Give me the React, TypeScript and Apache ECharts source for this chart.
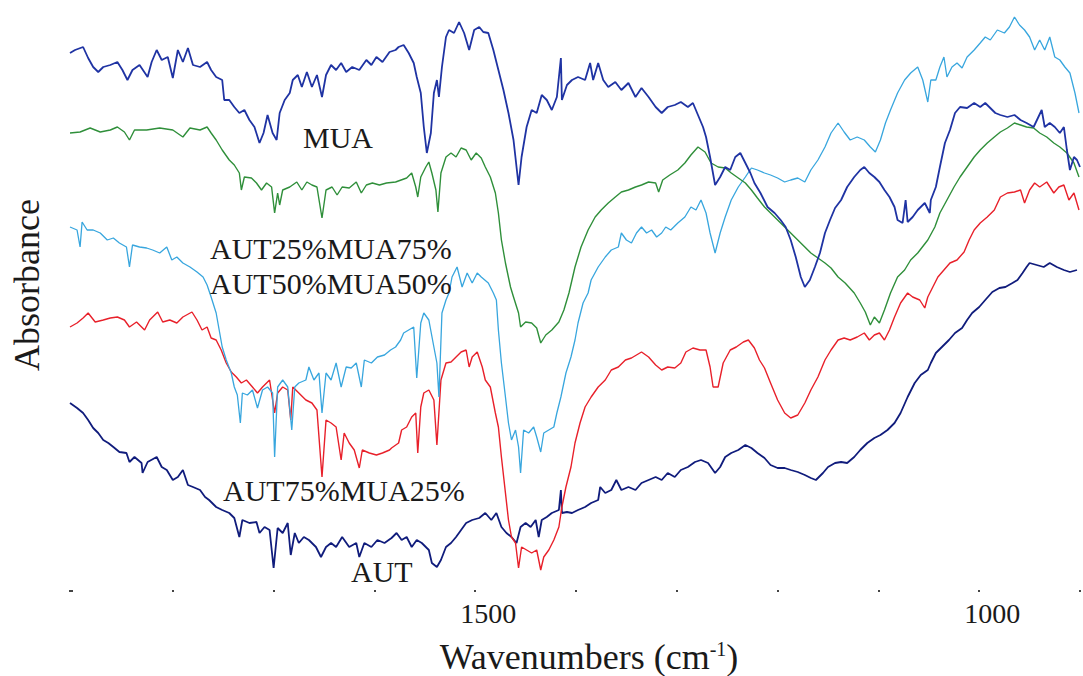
import React, { useEffect, useRef } from "react";
import * as echarts from "echarts";

// FTIR absorbance spectra (offset vertically), wavenumber in cm-1 vs stacked absorbance.
const mua: [number, number][] = [
  [1902, 5.47], [1897, 5.5], [1889, 5.53], [1884, 5.42], [1879, 5.33], [1874, 5.28], [1869, 5.33], [1862, 5.35],
  [1855, 5.38], [1850, 5.3], [1845, 5.2], [1840, 5.3], [1833, 5.35], [1825, 5.23], [1821, 5.38], [1816, 5.5],
  [1811, 5.4], [1805, 5.43], [1800, 5.22], [1795, 5.5], [1790, 5.38], [1785, 5.52], [1780, 5.35], [1773, 5.33],
  [1766, 5.38], [1762, 5.3], [1757, 5.23], [1751, 5.2], [1749, 5.0], [1744, 5.0], [1739, 4.93], [1734, 4.87],
  [1729, 4.9], [1724, 4.8], [1719, 4.73], [1714, 4.57], [1710, 4.67], [1706, 4.85], [1701, 4.67], [1697, 4.6],
  [1694, 4.87], [1689, 5.0], [1684, 5.07], [1681, 5.2], [1676, 5.25], [1672, 5.13], [1667, 5.28], [1662, 5.13],
  [1657, 5.25], [1652, 5.03], [1648, 5.25], [1643, 5.35], [1638, 5.3], [1633, 5.37], [1628, 5.28], [1622, 5.33],
  [1615, 5.3], [1608, 5.4], [1603, 5.35], [1598, 5.43], [1592, 5.38], [1585, 5.48], [1579, 5.5], [1576, 5.53],
  [1571, 5.55], [1566, 5.47], [1561, 5.37], [1558, 5.23], [1554, 5.07], [1551, 4.73], [1548, 4.47], [1544, 4.67],
  [1541, 5.07], [1538, 5.2], [1536, 5.03], [1533, 5.33], [1529, 5.63], [1526, 5.7], [1521, 5.67], [1516, 5.78],
  [1511, 5.67], [1506, 5.5], [1501, 5.7], [1496, 5.73], [1492, 5.68], [1487, 5.67], [1482, 5.5], [1477, 5.3],
  [1472, 5.1], [1467, 4.87], [1462, 4.6], [1457, 4.15], [1454, 4.43], [1449, 4.73], [1444, 4.9], [1439, 4.87],
  [1434, 5.05], [1429, 5.0], [1424, 4.9], [1419, 5.03], [1415, 5.42], [1414, 5.0], [1409, 5.15], [1404, 5.2],
  [1398, 5.23], [1391, 5.2], [1386, 5.37], [1383, 5.2], [1378, 5.37], [1373, 5.2], [1368, 5.13], [1361, 5.18],
  [1355, 5.1], [1348, 5.17], [1341, 5.03], [1335, 5.12], [1328, 5.03], [1321, 4.93], [1315, 4.87], [1309, 4.93],
  [1302, 4.95], [1296, 4.98], [1289, 4.93], [1284, 4.97], [1279, 4.85], [1274, 4.73], [1271, 4.63], [1267, 4.43],
  [1262, 4.15], [1257, 4.23], [1252, 4.33], [1247, 4.3], [1242, 4.43], [1237, 4.47], [1232, 4.37], [1227, 4.27],
  [1223, 4.17], [1217, 4.07], [1210, 3.93], [1203, 3.87], [1197, 3.8], [1192, 3.73], [1187, 3.6], [1182, 3.43],
  [1177, 3.23], [1173, 3.13], [1168, 3.2], [1163, 3.33], [1158, 3.47], [1153, 3.67], [1148, 3.8], [1143, 3.92],
  [1137, 4.0], [1131, 4.13], [1124, 4.23], [1118, 4.3], [1114, 4.33], [1109, 4.27], [1104, 4.23], [1099, 4.18],
  [1094, 4.1], [1089, 4.03], [1084, 3.93], [1081, 3.8], [1076, 3.77], [1073, 4.0], [1071, 3.78], [1066, 3.83],
  [1061, 3.9], [1054, 3.97], [1049, 3.87], [1048, 4.0], [1043, 4.13], [1039, 4.33], [1034, 4.57], [1029, 4.7],
  [1024, 4.87], [1019, 4.93], [1012, 4.92], [1005, 4.97], [999, 4.93], [994, 4.97], [989, 4.92], [984, 4.87],
  [979, 4.85], [972, 4.83], [965, 4.85], [959, 4.8], [953, 4.77], [946, 4.73], [938, 4.9], [935, 4.73],
  [930, 4.77], [925, 4.73], [920, 4.67], [916, 4.73], [913, 4.5], [910, 4.3], [906, 4.43], [903, 4.4], [900, 4.33],
];

const aut25mua75: [number, number][] = [
  [1902, 4.67], [1892, 4.68], [1882, 4.72], [1872, 4.68], [1862, 4.7], [1855, 4.73], [1848, 4.68], [1843, 4.6],
  [1838, 4.7], [1826, 4.7], [1813, 4.72], [1800, 4.7], [1790, 4.63], [1783, 4.72], [1773, 4.7], [1766, 4.73],
  [1762, 4.67], [1757, 4.6], [1751, 4.5], [1744, 4.4], [1739, 4.35], [1734, 4.27], [1732, 4.1], [1729, 4.23],
  [1722, 4.22], [1717, 4.17], [1712, 4.1], [1707, 4.17], [1702, 4.13], [1699, 3.87], [1696, 4.07], [1694, 3.95],
  [1691, 4.1], [1684, 4.13], [1677, 4.18], [1672, 4.1], [1667, 4.18], [1662, 4.15], [1657, 4.13], [1652, 3.82],
  [1648, 4.1], [1642, 4.13], [1637, 4.05], [1632, 4.13], [1625, 4.12], [1618, 4.18], [1613, 4.07], [1608, 4.15],
  [1602, 4.17], [1595, 4.15], [1588, 4.17], [1579, 4.18], [1568, 4.22], [1563, 4.27], [1559, 4.13], [1557, 4.03],
  [1554, 4.23], [1549, 4.33], [1546, 4.38], [1543, 4.27], [1539, 4.1], [1537, 3.88], [1534, 4.27], [1529, 4.43],
  [1524, 4.47], [1519, 4.43], [1514, 4.52], [1509, 4.5], [1504, 4.4], [1499, 4.47], [1494, 4.42], [1490, 4.33],
  [1485, 4.23], [1480, 4.07], [1477, 3.87], [1474, 3.6], [1470, 3.37], [1465, 3.13], [1462, 3.03], [1457, 2.87],
  [1455, 2.73], [1450, 2.78], [1444, 2.77], [1439, 2.72], [1435, 2.57], [1430, 2.65], [1424, 2.7], [1417, 2.78],
  [1412, 2.9], [1407, 3.07], [1401, 3.33], [1395, 3.53], [1388, 3.7], [1381, 3.83], [1375, 3.9], [1368, 3.97],
  [1361, 4.03], [1355, 4.08], [1348, 4.1], [1341, 4.13], [1335, 4.15], [1328, 4.18], [1321, 4.17], [1318, 4.08],
  [1314, 4.2], [1307, 4.25], [1299, 4.3], [1292, 4.37], [1286, 4.45], [1279, 4.53], [1272, 4.48], [1266, 4.37],
  [1259, 4.33], [1252, 4.32], [1246, 4.27], [1239, 4.22], [1232, 4.17], [1226, 4.1], [1220, 4.02], [1213, 3.93],
  [1207, 3.87], [1200, 3.8], [1193, 3.73], [1187, 3.67], [1180, 3.6], [1173, 3.53], [1167, 3.47], [1160, 3.42],
  [1153, 3.37], [1147, 3.32], [1140, 3.23], [1133, 3.17], [1124, 3.07], [1118, 2.97], [1113, 2.88], [1108, 2.75],
  [1104, 2.83], [1099, 2.77], [1094, 2.9], [1088, 3.07], [1081, 3.23], [1074, 3.3], [1068, 3.4], [1061, 3.47],
  [1051, 3.6], [1044, 3.73], [1039, 3.87], [1032, 4.0], [1025, 4.13], [1019, 4.23], [1012, 4.33], [1005, 4.43],
  [999, 4.5], [992, 4.57], [985, 4.63], [979, 4.68], [972, 4.72], [965, 4.77], [959, 4.75], [953, 4.73],
  [946, 4.72], [940, 4.67], [933, 4.63], [926, 4.57], [920, 4.53], [913, 4.47], [906, 4.37], [901, 4.23],
];

const aut50mua50: [number, number][] = [
  [1902, 3.73], [1895, 3.7], [1892, 3.53], [1890, 3.78], [1885, 3.7], [1879, 3.7], [1872, 3.67], [1865, 3.6],
  [1859, 3.62], [1853, 3.57], [1846, 3.53], [1843, 3.33], [1840, 3.55], [1833, 3.53], [1826, 3.52], [1820, 3.5],
  [1813, 3.47], [1806, 3.53], [1801, 3.4], [1796, 3.43], [1790, 3.37], [1783, 3.33], [1776, 3.28], [1770, 3.23],
  [1766, 3.15], [1762, 3.03], [1757, 2.87], [1754, 2.7], [1751, 2.53], [1747, 2.4], [1742, 2.27], [1739, 2.13],
  [1736, 2.05], [1733, 1.77], [1731, 2.07], [1726, 2.05], [1721, 2.1], [1716, 1.92], [1711, 2.1], [1706, 2.13],
  [1701, 2.07], [1699, 1.43], [1696, 2.13], [1691, 2.2], [1686, 2.13], [1682, 1.7], [1679, 2.13], [1675, 2.17],
  [1668, 2.2], [1665, 2.33], [1660, 2.2], [1655, 2.27], [1652, 1.87], [1648, 2.27], [1643, 2.2], [1638, 2.37],
  [1633, 2.13], [1628, 2.33], [1623, 2.32], [1618, 2.37], [1613, 2.13], [1610, 2.4], [1603, 2.37], [1597, 2.43],
  [1590, 2.45], [1584, 2.5], [1579, 2.53], [1574, 2.6], [1571, 2.67], [1566, 2.7], [1561, 2.73], [1558, 2.22],
  [1554, 2.77], [1551, 2.87], [1546, 2.8], [1541, 2.53], [1538, 2.37], [1536, 2.03], [1533, 2.87], [1529, 3.0],
  [1526, 3.07], [1523, 3.23], [1518, 3.33], [1513, 3.13], [1508, 3.27], [1503, 3.17], [1498, 3.27], [1494, 3.23],
  [1487, 3.17], [1482, 3.07], [1479, 3.0], [1477, 2.7], [1474, 2.37], [1470, 2.03], [1467, 1.77], [1464, 1.6],
  [1460, 1.7], [1457, 1.53], [1455, 1.27], [1452, 1.7], [1447, 1.67], [1442, 1.73], [1439, 1.63], [1435, 1.48],
  [1432, 1.67], [1427, 1.7], [1422, 1.73], [1419, 1.87], [1415, 2.03], [1410, 2.27], [1405, 2.43], [1401, 2.6],
  [1398, 2.77], [1393, 2.97], [1388, 3.07], [1385, 3.2], [1378, 3.33], [1371, 3.43], [1365, 3.5], [1358, 3.53],
  [1355, 3.67], [1350, 3.6], [1345, 3.57], [1340, 3.67], [1335, 3.73], [1330, 3.67], [1325, 3.7], [1320, 3.63],
  [1315, 3.67], [1311, 3.73], [1306, 3.7], [1299, 3.77], [1292, 3.83], [1286, 3.93], [1281, 3.9], [1276, 4.0],
  [1271, 3.87], [1267, 3.67], [1262, 3.47], [1257, 3.67], [1252, 3.83], [1246, 4.0], [1239, 4.13], [1232, 4.23],
  [1226, 4.32], [1220, 4.3], [1213, 4.27], [1207, 4.25], [1200, 4.22], [1193, 4.18], [1187, 4.2], [1180, 4.22],
  [1173, 4.18], [1167, 4.3], [1160, 4.4], [1153, 4.53], [1147, 4.67], [1140, 4.77], [1134, 4.68], [1128, 4.6],
  [1121, 4.63], [1114, 4.6], [1108, 4.53], [1103, 4.48], [1098, 4.6], [1093, 4.77], [1088, 4.9], [1081, 5.07],
  [1074, 5.2], [1068, 5.27], [1061, 5.33], [1056, 5.2], [1051, 4.98], [1048, 5.2], [1043, 5.2], [1039, 5.33],
  [1035, 5.43], [1032, 5.23], [1027, 5.33], [1022, 5.37], [1017, 5.32], [1012, 5.43], [1005, 5.5], [999, 5.57],
  [994, 5.63], [989, 5.6], [982, 5.7], [975, 5.67], [970, 5.73], [965, 5.83], [960, 5.75], [955, 5.7],
  [950, 5.63], [945, 5.5], [940, 5.6], [935, 5.5], [930, 5.63], [925, 5.43], [920, 5.4], [915, 5.33],
  [910, 5.27], [905, 5.07], [901, 4.87],
];

const aut75mua25: [number, number][] = [
  [1902, 2.73], [1895, 2.77], [1889, 2.82], [1884, 2.87], [1877, 2.78], [1869, 2.8], [1862, 2.82], [1855, 2.83],
  [1848, 2.8], [1843, 2.73], [1836, 2.78], [1828, 2.7], [1823, 2.8], [1815, 2.88], [1810, 2.78], [1803, 2.8],
  [1796, 2.77], [1790, 2.83], [1781, 2.88], [1776, 2.8], [1771, 2.7], [1766, 2.73], [1762, 2.62], [1757, 2.6],
  [1752, 2.5], [1747, 2.37], [1742, 2.28], [1737, 2.23], [1732, 2.17], [1727, 2.2], [1721, 2.13], [1716, 2.07],
  [1711, 2.13], [1704, 2.2], [1699, 1.87], [1696, 2.07], [1691, 2.13], [1686, 2.1], [1683, 1.8], [1681, 2.13],
  [1675, 2.07], [1668, 2.0], [1662, 1.97], [1657, 1.9], [1652, 1.23], [1648, 1.8], [1643, 1.77], [1638, 1.73],
  [1633, 1.4], [1630, 1.67], [1625, 1.57], [1620, 1.5], [1615, 1.32], [1612, 1.5], [1605, 1.47], [1598, 1.45],
  [1592, 1.47], [1585, 1.5], [1583, 1.52], [1576, 1.57], [1573, 1.7], [1568, 1.73], [1563, 1.83], [1559, 1.87],
  [1557, 1.47], [1554, 1.93], [1551, 2.07], [1546, 2.1], [1541, 2.0], [1538, 1.55], [1534, 2.2], [1529, 2.37],
  [1524, 2.38], [1519, 2.43], [1514, 2.48], [1509, 2.5], [1506, 2.33], [1503, 2.43], [1498, 2.48], [1493, 2.33],
  [1490, 2.2], [1485, 2.13], [1480, 1.87], [1477, 1.73], [1474, 1.43], [1470, 1.07], [1467, 0.8], [1464, 0.63],
  [1460, 0.57], [1457, 0.32], [1454, 0.53], [1449, 0.5], [1444, 0.47], [1439, 0.5], [1435, 0.3], [1432, 0.43],
  [1427, 0.5], [1422, 0.6], [1417, 0.73], [1414, 0.93], [1410, 1.13], [1405, 1.33], [1401, 1.57], [1396, 1.77],
  [1391, 1.93], [1385, 2.03], [1378, 2.13], [1371, 2.2], [1365, 2.3], [1358, 2.33], [1351, 2.4], [1345, 2.42],
  [1340, 2.45], [1335, 2.48], [1328, 2.43], [1321, 2.35], [1315, 2.3], [1309, 2.33], [1302, 2.32], [1296, 2.37],
  [1291, 2.48], [1284, 2.52], [1277, 2.5], [1271, 2.5], [1267, 2.33], [1264, 2.13], [1259, 2.13], [1254, 2.37],
  [1247, 2.5], [1241, 2.53], [1234, 2.58], [1229, 2.6], [1223, 2.52], [1218, 2.4], [1213, 2.32], [1207, 2.17],
  [1200, 2.0], [1193, 1.87], [1187, 1.82], [1180, 1.85], [1173, 1.97], [1167, 2.1], [1160, 2.23], [1153, 2.4],
  [1147, 2.5], [1140, 2.6], [1134, 2.62], [1128, 2.6], [1121, 2.63], [1114, 2.67], [1109, 2.6], [1104, 2.65],
  [1099, 2.67], [1094, 2.6], [1089, 2.7], [1084, 2.83], [1078, 2.97], [1071, 3.07], [1066, 3.03], [1059, 3.0],
  [1054, 2.92], [1051, 3.03], [1046, 3.13], [1041, 3.23], [1035, 3.3], [1029, 3.37], [1022, 3.4], [1015, 3.48],
  [1010, 3.6], [1005, 3.7], [999, 3.77], [992, 3.83], [985, 3.9], [979, 4.03], [972, 4.07], [965, 4.08],
  [959, 4.1], [955, 3.97], [950, 4.1], [945, 4.17], [940, 4.13], [933, 4.18], [926, 4.07], [921, 4.13],
  [916, 4.15], [911, 4.0], [906, 4.07], [901, 3.9],
];

const aut: [number, number][] = [
  [1902, 1.97], [1895, 1.92], [1889, 1.87], [1884, 1.8], [1879, 1.72], [1874, 1.67], [1869, 1.6], [1864, 1.57],
  [1859, 1.53], [1853, 1.48], [1846, 1.47], [1843, 1.38], [1838, 1.43], [1831, 1.37], [1830, 1.27], [1825, 1.38],
  [1816, 1.43], [1811, 1.33], [1806, 1.3], [1800, 1.2], [1795, 1.23], [1790, 1.3], [1785, 1.15], [1780, 1.13],
  [1773, 1.1], [1768, 1.03], [1764, 1.0], [1757, 0.93], [1751, 0.9], [1744, 0.87], [1739, 0.82], [1734, 0.63],
  [1731, 0.8], [1724, 0.77], [1717, 0.78], [1714, 0.67], [1709, 0.73], [1704, 0.7], [1700, 0.32], [1696, 0.72],
  [1691, 0.67], [1686, 0.77], [1683, 0.45], [1679, 0.67], [1675, 0.57], [1670, 0.63], [1665, 0.6], [1658, 0.53],
  [1653, 0.43], [1648, 0.53], [1643, 0.57], [1638, 0.53], [1632, 0.63], [1625, 0.53], [1618, 0.57], [1615, 0.43],
  [1610, 0.57], [1603, 0.53], [1597, 0.6], [1590, 0.57], [1583, 0.62], [1578, 0.67], [1573, 0.6], [1568, 0.63],
  [1563, 0.53], [1558, 0.6], [1553, 0.57], [1546, 0.5], [1543, 0.37], [1538, 0.33], [1534, 0.4], [1529, 0.53],
  [1524, 0.57], [1519, 0.63], [1514, 0.7], [1509, 0.77], [1503, 0.8], [1496, 0.82], [1490, 0.87], [1484, 0.8],
  [1479, 0.87], [1474, 0.73], [1469, 0.67], [1464, 0.63], [1459, 0.57], [1455, 0.73], [1450, 0.77], [1445, 0.73],
  [1440, 0.8], [1437, 0.63], [1434, 0.8], [1429, 0.83], [1424, 0.87], [1417, 0.9], [1415, 1.1], [1414, 0.87],
  [1409, 0.88], [1404, 0.87], [1398, 0.9], [1391, 0.93], [1385, 0.97], [1378, 1.0], [1376, 1.13], [1371, 1.07],
  [1365, 1.1], [1360, 1.2], [1355, 1.1], [1348, 1.13], [1341, 1.1], [1335, 1.17], [1328, 1.2], [1321, 1.23],
  [1315, 1.2], [1309, 1.27], [1302, 1.23], [1296, 1.3], [1289, 1.33], [1282, 1.38], [1276, 1.4], [1269, 1.37],
  [1262, 1.27], [1257, 1.33], [1252, 1.43], [1246, 1.47], [1239, 1.5], [1232, 1.55], [1226, 1.52], [1220, 1.47],
  [1213, 1.42], [1207, 1.35], [1200, 1.32], [1193, 1.32], [1187, 1.3], [1180, 1.28], [1173, 1.25], [1167, 1.22],
  [1162, 1.2], [1155, 1.27], [1150, 1.33], [1143, 1.37], [1137, 1.38], [1131, 1.37], [1124, 1.43], [1118, 1.5],
  [1111, 1.57], [1104, 1.62], [1098, 1.65], [1091, 1.7], [1084, 1.77], [1078, 1.87], [1071, 2.03], [1064, 2.17],
  [1058, 2.25], [1051, 2.3], [1048, 2.37], [1043, 2.47], [1037, 2.53], [1030, 2.6], [1024, 2.67], [1017, 2.72],
  [1012, 2.8], [1007, 2.87], [1000, 2.93], [994, 3.0], [987, 3.08], [980, 3.12], [974, 3.13], [967, 3.17],
  [962, 3.2], [957, 3.27], [953, 3.33], [950, 3.37], [943, 3.35], [936, 3.33], [930, 3.37], [923, 3.33],
  [916, 3.3], [910, 3.28], [903, 3.3],
];

const labeledTicks = [1500, 1000];

const SERIF = "'Liberation Serif', 'Times New Roman', serif";

export default function App() {
  const ref = useRef<HTMLDivElement>(null);

  useEffect(() => {
    if (!ref.current) return;
    const chart = echarts.init(ref.current, undefined, { renderer: "svg" });

    const spectrum = (name: string, data: [number, number][], color: string, width: number) => ({
      type: "line",
      name,
      data,
      showSymbol: false,
      symbol: "none",
      smooth: false,
      lineStyle: { color, width },
      itemStyle: { color },
      z: 2,
    });

    const label = (text: string, x: number, y: number) => ({
      type: "text",
      x,
      y,
      style: {
        text,
        fontFamily: SERIF,
        fontSize: 30,
        fill: "#1a1a1a",
        align: "left",
        verticalAlign: "middle",
      },
      z: 10,
    });

    chart.setOption({
      animation: false,
      backgroundColor: "#ffffff",
      grid: { left: 70, right: 0, top: 0, bottom: 86, containLabel: false },
      xAxis: {
        type: "value",
        inverse: true,
        min: 900,
        max: 1902,
        interval: 100,
        axisLine: { show: false },
        splitLine: { show: false },
        axisTick: { show: true, length: 2, lineStyle: { color: "#444", width: 2 } },
        axisLabel: {
          show: true,
          margin: 9,
          fontFamily: SERIF,
          fontSize: 28,
          color: "#1a1a1a",
          padding: [0, 0, 0, 26],
          showMinLabel: true,
          showMaxLabel: true,
          formatter: (v: number) => (labeledTicks.includes(v) ? String(v) : ""),
        },
      },
      yAxis: {
        type: "value",
        min: 0.1,
        max: 6,
        show: false,
      },
      series: [
        spectrum("AUT", aut, "#101c7c", 1.8),
        spectrum("AUT75%MUA25%", aut75mua25, "#e8202a", 1.4),
        spectrum("AUT50%MUA50%", aut50mua50, "#38a6de", 1.3),
        spectrum("AUT25%MUA75%", aut25mua75, "#2f8f3a", 1.4),
        spectrum("MUA", mua, "#1f33a3", 1.8),
      ],
      graphic: [
        label("MUA", 303, 137),
        label("AUT25%MUA75%", 210, 248),
        label("AUT50%MUA50%", 210, 283),
        label("AUT75%MUA25%", 223, 490),
        label("AUT", 351, 571),
        {
          type: "text",
          x: 589,
          y: 657,
          style: {
            text: "Wavenumbers (cm{sup|-1})",
            fontFamily: SERIF,
            fontSize: 36,
            fill: "#1a1a1a",
            align: "center",
            verticalAlign: "middle",
            rich: {
              sup: { fontFamily: SERIF, fontSize: 20, fill: "#1a1a1a", verticalAlign: "top", padding: [0, 0, 14, 0] },
            },
          },
        },
        {
          type: "text",
          x: 27,
          y: 285,
          rotation: Math.PI / 2,
          style: {
            text: "Absorbance",
            fontFamily: SERIF,
            fontSize: 36,
            fill: "#1a1a1a",
            align: "center",
            verticalAlign: "middle",
          },
        },
      ],
    });

    return () => chart.dispose();
  }, []);

  return (
    <div
      ref={ref}
      style={{ position: "absolute", left: 0, top: 0, width: 1083, height: 676, background: "#fff" }}
    />
  );
}
